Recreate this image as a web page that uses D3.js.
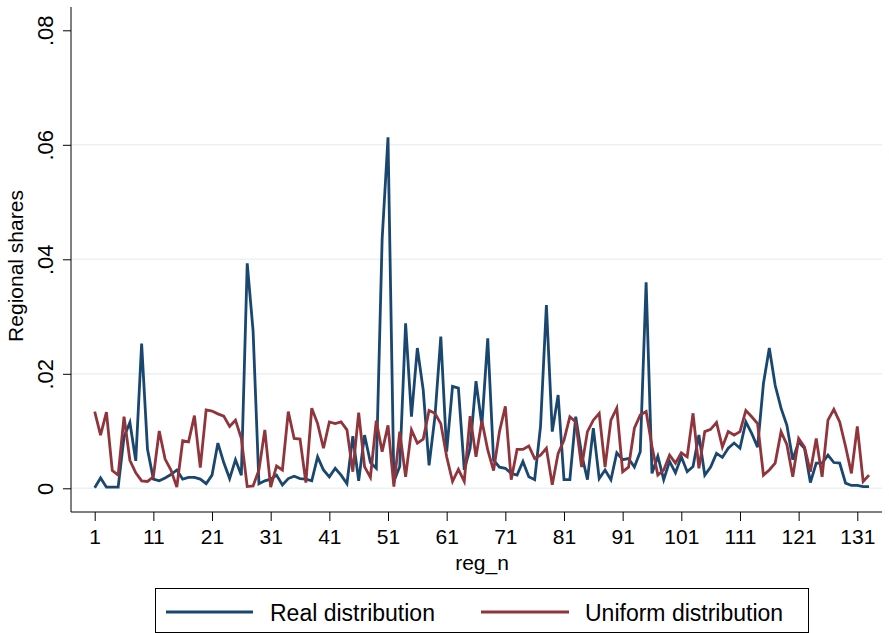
<!DOCTYPE html>
<html>
<head>
<meta charset="utf-8">
<script src="https://cdn.jsdelivr.net/npm/d3@7"></script>
<style>
  body { margin: 0; background: #fff; }
  svg { display: block; font-family: "Liberation Sans", Arial, sans-serif; }
</style>
</head>
<body>
<svg id="chart" width="889" height="633"></svg>
<script>
"use strict"

// regional shares, one value per region (reg_n = 1..133)
const realShares = [
  0.0001, 0.0018, 0.0002, 0.0002, 0.0002, 0.0090, 0.0115, 0.0048, 0.0253, 0.0068,
  0.0016, 0.0013, 0.0018, 0.0024, 0.0032, 0.0016, 0.0019, 0.0019, 0.0016, 0.0008,
  0.0023, 0.0079, 0.0045, 0.0017, 0.0050, 0.0023, 0.0393, 0.0275, 0.0008, 0.0013,
  0.0016, 0.0023, 0.0006, 0.0017, 0.0021, 0.0017, 0.0016, 0.0013, 0.0055, 0.0032,
  0.0020, 0.0035, 0.0023, 0.0008, 0.0091, 0.0013, 0.0093, 0.0045, 0.0035, 0.0435,
  0.0613, 0.0012, 0.0038, 0.0288, 0.0125, 0.0245, 0.0172, 0.0040, 0.0125, 0.0265,
  0.0064, 0.0178, 0.0175, 0.0032, 0.0070, 0.0187, 0.0110, 0.0262, 0.0049, 0.0037,
  0.0035, 0.0026, 0.0023, 0.0047, 0.0020, 0.0015, 0.0108, 0.0320, 0.0099, 0.0163,
  0.0015, 0.0015, 0.0125, 0.0060, 0.0015, 0.0105, 0.0017, 0.0032, 0.0015, 0.0062,
  0.0050, 0.0052, 0.0037, 0.0064, 0.0360, 0.0026, 0.0056, 0.0015, 0.0047, 0.0027,
  0.0055, 0.0029, 0.0038, 0.0093, 0.0023, 0.0037, 0.0061, 0.0054, 0.0070, 0.0079,
  0.0070, 0.0116, 0.0096, 0.0072, 0.0183, 0.0245, 0.0180, 0.0140, 0.0110, 0.0050,
  0.0081, 0.0070, 0.0010, 0.0044, 0.0044, 0.0058, 0.0045, 0.0044, 0.0009, 0.0005,
  0.0005, 0.0003, 0.0003
];

const uniformShares = [
  0.0134, 0.0093, 0.0133, 0.0031, 0.0023, 0.0125, 0.0049, 0.0027, 0.0013, 0.0012,
  0.0020, 0.0100, 0.0051, 0.0032, 0.0002, 0.0083, 0.0081, 0.0127, 0.0036, 0.0137,
  0.0135, 0.0130, 0.0126, 0.0108, 0.0119, 0.0087, 0.0003, 0.0004, 0.0032, 0.0102,
  0.0002, 0.0039, 0.0032, 0.0134, 0.0087, 0.0086, 0.0010, 0.0140, 0.0113, 0.0070,
  0.0116, 0.0113, 0.0116, 0.0102, 0.0029, 0.0132, 0.0038, 0.0019, 0.0118, 0.0064,
  0.0110, 0.0003, 0.0099, 0.0020, 0.0102, 0.0079, 0.0086, 0.0136, 0.0131, 0.0113,
  0.0055, 0.0012, 0.0033, 0.0012, 0.0126, 0.0055, 0.0118, 0.0067, 0.0031, 0.0099,
  0.0143, 0.0015, 0.0068, 0.0068, 0.0074, 0.0052, 0.0058, 0.0070, 0.0006, 0.0061,
  0.0084, 0.0125, 0.0116, 0.0037, 0.0099, 0.0119, 0.0131, 0.0037, 0.0119, 0.0140,
  0.0029, 0.0037, 0.0105, 0.0128, 0.0134, 0.0073, 0.0023, 0.0032, 0.0058, 0.0044,
  0.0062, 0.0055, 0.0131, 0.0035, 0.0099, 0.0103, 0.0115, 0.0072, 0.0099, 0.0093,
  0.0099, 0.0136, 0.0125, 0.0113, 0.0023, 0.0032, 0.0044, 0.0099, 0.0076, 0.0020,
  0.0087, 0.0072, 0.0029, 0.0087, 0.0020, 0.0119, 0.0138, 0.0116, 0.0073, 0.0026,
  0.0108, 0.0012, 0.0023
];

const xTicks = [1, 11, 21, 31, 41, 51, 61, 71, 81, 91, 101, 111, 121, 131];
const yTicks = [0, 0.02, 0.04, 0.06, 0.08];
const yGrid = [0, 0.02, 0.04, 0.06];
const seriesNames = ["Real distribution", "Uniform distribution"];
const seriesColors = ["#1a476f", "#90353b"];

const svg = d3.select("#chart");

const x = d3.scaleLinear().domain([1, 131]).range([94.7, 857.3]);
const y = d3.scaleLinear().domain([0, 0.08]).range([488.3, 30.3]);

const axisLeftX = 71, axisBottomY = 512;

// gridlines
svg.append("g")
  .selectAll("line")
  .data(yGrid)
  .join("line")
    .attr("x1", axisLeftX)
    .attr("x2", 882)
    .attr("y1", d => y(d))
    .attr("y2", d => y(d))
    .attr("stroke", "#eaf2f3")
    .attr("stroke-width", 1.5);

// series lines
const line = d3.line()
  .x((d, i) => x(i + 1))
  .y(d => y(d));

svg.append("g")
  .selectAll("path")
  .data([realShares, uniformShares])
  .join("path")
    .attr("d", d => line(d))
    .attr("fill", "none")
    .attr("stroke", (d, i) => seriesColors[i])
    .attr("stroke-width", 2.8)
    .attr("stroke-linejoin", "miter");

// y axis
const yAxis = svg.append("g")
  .attr("transform", `translate(${axisLeftX},0)`)
  .call(d3.axisLeft(y).tickValues(yTicks).tickSize(8)
    .tickFormat(d => d === 0 ? "0" : d3.format(".2f")(d).replace(/^0/, "")));
yAxis.select(".domain").remove();
yAxis.selectAll(".tick line").attr("stroke", "#000");
yAxis.selectAll(".tick text")
  .attr("x", null).attr("dy", null)
  .attr("transform", "translate(-18,0) rotate(-90)")
  .attr("text-anchor", "middle")
  .attr("font-size", 22)
  .attr("fill", "#000");

svg.append("line")
  .attr("x1", axisLeftX).attr("x2", axisLeftX)
  .attr("y1", 7).attr("y2", axisBottomY)
  .attr("stroke", "#000");

// x axis
const xAxis = svg.append("g")
  .attr("transform", `translate(0,${axisBottomY})`)
  .call(d3.axisBottom(x).tickValues(xTicks).tickSize(9).tickFormat(d3.format("d")));
xAxis.select(".domain").remove();
xAxis.selectAll(".tick line").attr("stroke", "#000");
xAxis.selectAll(".tick text")
  .attr("y", 32).attr("dy", null)
  .attr("font-size", 21)
  .attr("fill", "#000");

svg.append("line")
  .attr("x1", axisLeftX).attr("x2", 882)
  .attr("y1", axisBottomY).attr("y2", axisBottomY)
  .attr("stroke", "#000");

// axis titles
svg.append("text")
  .attr("transform", "translate(23,266) rotate(-90)")
  .attr("text-anchor", "middle")
  .attr("font-size", 21)
  .text("Regional shares");

svg.append("text")
  .attr("x", 482).attr("y", 570)
  .attr("text-anchor", "middle")
  .attr("font-size", 21)
  .text("reg_n");

// legend
const legend = svg.append("g");
legend.append("rect")
  .attr("x", 155.5).attr("y", 588.5)
  .attr("width", 653).attr("height", 44)
  .attr("fill", "#fff")
  .attr("stroke", "#000");

const legendItems = [
  { x1: 166, x2: 253, tx: 270 },
  { x1: 481, x2: 569, tx: 585 }
];
legend.selectAll("line")
  .data(legendItems)
  .join("line")
    .attr("x1", d => d.x1).attr("x2", d => d.x2)
    .attr("y1", 612).attr("y2", 612)
    .attr("stroke", (d, i) => seriesColors[i])
    .attr("stroke-width", 2.8);
legend.selectAll("text")
  .data(legendItems)
  .join("text")
    .attr("x", d => d.tx).attr("y", 621)
    .attr("font-size", 23)
    .text((d, i) => seriesNames[i]);
</script>
</body>
</html>
